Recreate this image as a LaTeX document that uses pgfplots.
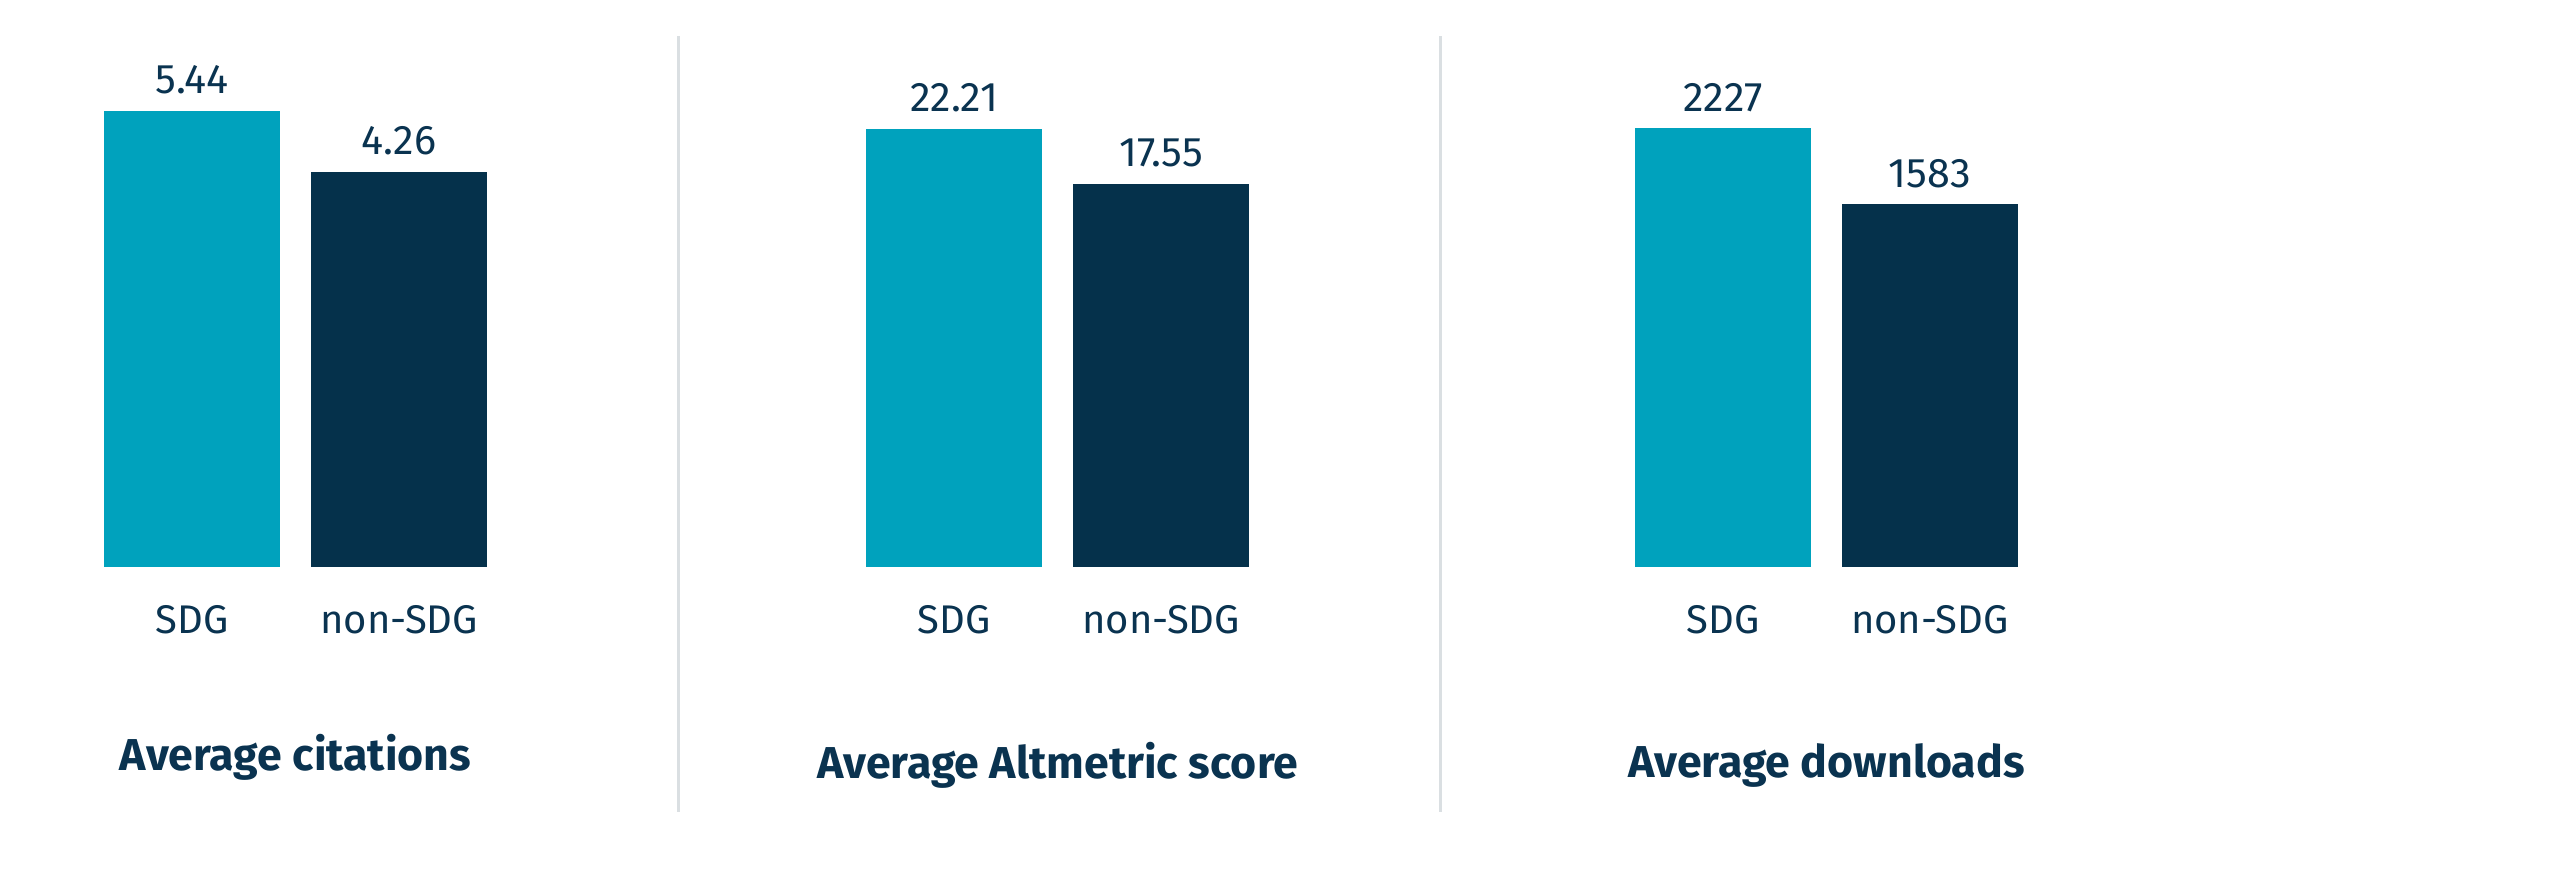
\documentclass[border=0pt]{standalone}
\usepackage{fontspec}
\setmainfont{Fira Sans}
\usepackage{pgfplots}
\pgfplotsset{compat=1.18}
\definecolor{sdgteal}{HTML}{00A2BD}
\definecolor{sdgnavy}{HTML}{05314B}
\definecolor{txt}{HTML}{0A3350}
\definecolor{divider}{HTML}{DADFE2}
\pgfplotsset{
  barpanel/.style={
    scale only axis, width=124.2pt, height=150pt,
    xmin=-0.5, xmax=1.5, ymin=0,
    axis line style={draw=none}, tick style={draw=none},
    ytick=\empty, xtick={0,1}, xticklabels={SDG,non-SDG},
    major tick length=0pt,
    xticklabel style={anchor=base, yshift=-20.1pt, font=\fontsize{12}{14}\selectfont, text=txt},
    ybar, bar width=0.85,
    clip=false,
    nodes near coords, point meta=rawy,
    every node near coord/.append style={anchor=base, yshift=5.1pt, font=\fontsize{12.4}{14}\selectfont, text=txt},
    title style={at={(0.5,0)}, anchor=base, font=\bfseries\fontsize{13.4}{16}\selectfont, text=txt},
  }
}
\begin{document}
\begin{tikzpicture}
\path[use as bounding box] (0,0) rectangle (768pt,264.6pt);
\draw[divider, line width=0.9pt] (203.4pt,21pt) -- (203.4pt,253.8pt);
\draw[divider, line width=0.9pt] (432pt,21pt) -- (432pt,253.8pt);

\begin{axis}[barpanel, at={(26.55pt,94.5pt)}, anchor=south west,
  ymax=9.673, y filter/.expression={y+3.382},
  nodes near coords={\pgfmathprintnumber[fixed,fixed zerofill,precision=2,assume math mode=true]{\pgfplotspointmeta}},
  title={Average citations}, title style={yshift=-67.2pt}]
\addplot[fill=sdgteal, draw=none, bar shift=0pt] coordinates {(0,5.44)};
\addplot[fill=sdgnavy, draw=none, bar shift=0pt] coordinates {(1,4.26)};
\end{axis}

\begin{axis}[barpanel, at={(255.2pt,94.5pt)}, anchor=south west,
  ymax=42.37, y filter/.expression={y+14.91},
  nodes near coords={\pgfmathprintnumber[fixed,fixed zerofill,precision=2,assume math mode=true]{\pgfplotspointmeta}},
  title={Average Altmetric score}, title style={yshift=-69.6pt}]
\addplot[fill=sdgteal, draw=none, bar shift=0pt] coordinates {(0,22.21)};
\addplot[fill=sdgnavy, draw=none, bar shift=0pt] coordinates {(1,17.55)};
\end{axis}

\begin{axis}[barpanel, at={(485.8pt,94.5pt)}, anchor=south west,
  ymax=4237, y filter/.expression={y+1493},
  nodes near coords={\pgfmathprintnumber[fixed,precision=0,1000 sep={},assume math mode=true]{\pgfplotspointmeta}},
  title={Average downloads}, title style={yshift=-69pt}]
\addplot[fill=sdgteal, draw=none, bar shift=0pt] coordinates {(0,2227)};
\addplot[fill=sdgnavy, draw=none, bar shift=0pt] coordinates {(1,1583)};
\end{axis}
\end{tikzpicture}
\end{document}
